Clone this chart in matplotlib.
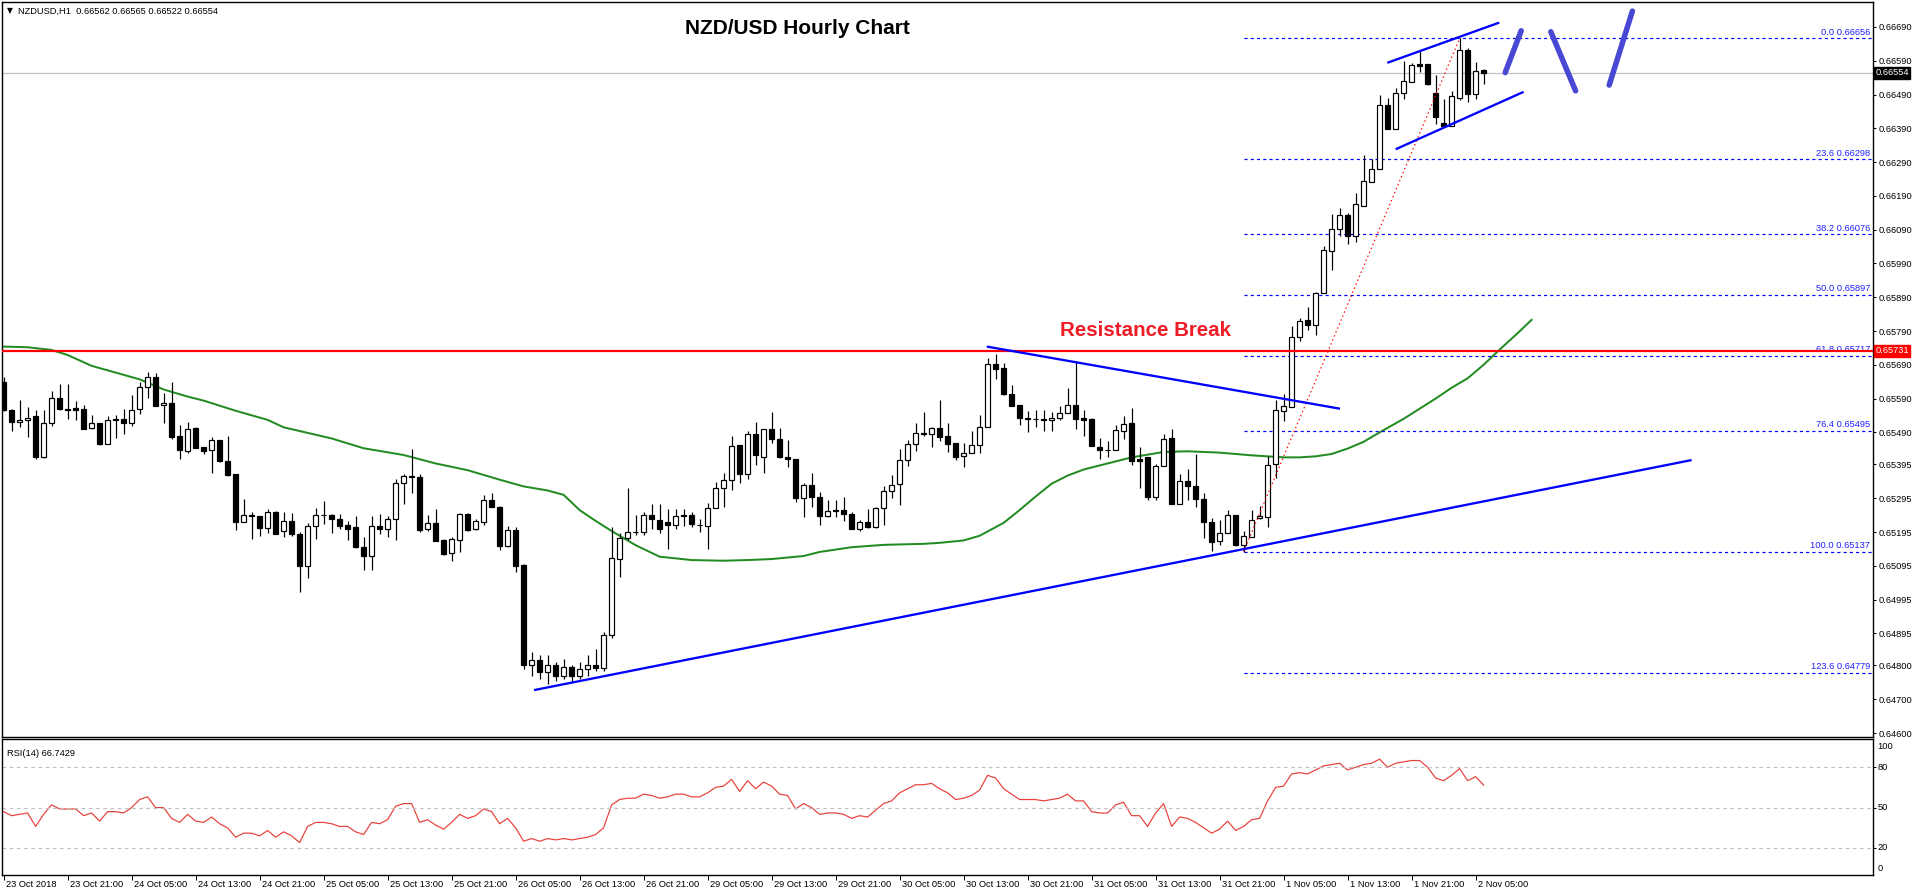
import matplotlib
matplotlib.use("Agg")
import matplotlib.pyplot as plt
from matplotlib.transforms import blended_transform_factory
import numpy as np

W, H, DPI = 1916, 896, 100

# ---- NZDUSD H1 candles (bar 0 = 23 Oct 13:00) ----
opens = [0.65640, 0.65556, 0.65520, 0.65526, 0.65538, 0.65416, 0.65517, 0.65591, 0.65558, 0.65561,
         0.65559, 0.65502, 0.65517, 0.65457, 0.65527, 0.65529, 0.65517, 0.65558, 0.65623, 0.65655,
         0.65570, 0.65576, 0.65479, 0.65436, 0.65502, 0.65447, 0.65437, 0.65467, 0.65404, 0.65366,
         0.65226, 0.65244, 0.65242, 0.65206, 0.65255, 0.65197, 0.65229, 0.65189, 0.65095, 0.65212,
         0.65244, 0.65245, 0.65235, 0.65215, 0.65210, 0.65152, 0.65125, 0.65212, 0.65205, 0.65234,
         0.65339, 0.65361, 0.65358, 0.65203, 0.65222, 0.65170, 0.65132, 0.65170, 0.65248, 0.65203,
         0.65226, 0.65289, 0.65269, 0.65154, 0.65200, 0.65097, 0.64800, 0.64815, 0.64780, 0.64800,
         0.64770, 0.64795, 0.64770, 0.64790, 0.64800, 0.64792, 0.64890, 0.65114, 0.65176, 0.65194,
         0.65194, 0.65244, 0.65232, 0.65224, 0.65215, 0.65244, 0.65244, 0.65217, 0.65212, 0.65265,
         0.65324, 0.65348, 0.65452, 0.65366, 0.65484, 0.65416, 0.65499, 0.65470, 0.65417, 0.65410,
         0.65295, 0.65334, 0.65300, 0.65241, 0.65259, 0.65259, 0.65248, 0.65203, 0.65224, 0.65209,
         0.65265, 0.65315, 0.65336, 0.65407, 0.65457, 0.65486, 0.65484, 0.65502, 0.65479, 0.65458,
         0.65419, 0.65428, 0.65452, 0.65507, 0.65691, 0.65680, 0.65604, 0.65571, 0.65534, 0.65530,
         0.65530, 0.65527, 0.65532, 0.65546, 0.65571, 0.65534, 0.65530, 0.65447, 0.65437, 0.65437,
         0.65493, 0.65518, 0.65410, 0.65416, 0.65298, 0.65390, 0.65474, 0.65278, 0.65347, 0.65331,
         0.65292, 0.65226, 0.65167, 0.65192, 0.65245, 0.65157, 0.65181, 0.65236, 0.65239, 0.65395,
         0.65553, 0.65566, 0.65772, 0.65823, 0.65809, 0.65902, 0.66026, 0.66091, 0.66133, 0.66070,
         0.66161, 0.66230, 0.66269, 0.66459, 0.66389, 0.66496, 0.66528, 0.66579, 0.66579, 0.66494,
         0.66407, 0.66396, 0.66481, 0.66621, 0.66491, 0.66562]
highs = [0.65655, 0.65560, 0.65586, 0.65564, 0.65556, 0.65556, 0.65612, 0.65633, 0.65633, 0.65583,
         0.65571, 0.65541, 0.65519, 0.65538, 0.65541, 0.65558, 0.65601, 0.65640, 0.65670, 0.65667,
         0.65608, 0.65638, 0.65512, 0.65521, 0.65505, 0.65448, 0.65475, 0.65468, 0.65479, 0.65368,
         0.65293, 0.65255, 0.65243, 0.65262, 0.65256, 0.65253, 0.65251, 0.65195, 0.65222, 0.65265,
         0.65287, 0.65249, 0.65249, 0.65227, 0.65241, 0.65179, 0.65241, 0.65248, 0.65241, 0.65351,
         0.65368, 0.65442, 0.65367, 0.65244, 0.65263, 0.65173, 0.65180, 0.65250, 0.65251, 0.65235,
         0.65305, 0.65310, 0.65273, 0.65212, 0.65211, 0.65100, 0.64840, 0.64830, 0.64830, 0.64810,
         0.64820, 0.64800, 0.64810, 0.64830, 0.64850, 0.64900, 0.65211, 0.65191, 0.65324, 0.65245,
         0.65253, 0.65278, 0.65278, 0.65262, 0.65262, 0.65262, 0.65253, 0.65233, 0.65281, 0.65342,
         0.65369, 0.65479, 0.65454, 0.65494, 0.65521, 0.65501, 0.65550, 0.65503, 0.65467, 0.65412,
         0.65339, 0.65369, 0.65312, 0.65289, 0.65291, 0.65298, 0.65254, 0.65230, 0.65264, 0.65270,
         0.65330, 0.65365, 0.65441, 0.65467, 0.65518, 0.65550, 0.65507, 0.65586, 0.65517, 0.65460,
         0.65460, 0.65494, 0.65541, 0.65711, 0.65723, 0.65696, 0.65631, 0.65572, 0.65553, 0.65557,
         0.65557, 0.65551, 0.65569, 0.65622, 0.65701, 0.65555, 0.65532, 0.65474, 0.65463, 0.65511,
         0.65537, 0.65561, 0.65448, 0.65418, 0.65395, 0.65485, 0.65500, 0.65368, 0.65381, 0.65426,
         0.65310, 0.65236, 0.65231, 0.65261, 0.65245, 0.65197, 0.65261, 0.65271, 0.65421, 0.65585,
         0.65603, 0.65804, 0.65830, 0.65860, 0.65905, 0.66042, 0.66135, 0.66154, 0.66140, 0.66200,
         0.66311, 0.66298, 0.66489, 0.66481, 0.66510, 0.66589, 0.66583, 0.66619, 0.66580, 0.66547,
         0.66476, 0.66500, 0.66656, 0.66628, 0.66586, 0.66565]
lows = [0.65554, 0.65495, 0.65507, 0.65475, 0.65412, 0.65414, 0.65510, 0.65556, 0.65530, 0.65528,
        0.65499, 0.65500, 0.65454, 0.65455, 0.65474, 0.65486, 0.65510, 0.65543, 0.65593, 0.65567,
        0.65519, 0.65471, 0.65412, 0.65430, 0.65443, 0.65426, 0.65371, 0.65402, 0.65362, 0.65202,
        0.65224, 0.65175, 0.65182, 0.65193, 0.65188, 0.65179, 0.65184, 0.65018, 0.65059, 0.65175,
        0.65219, 0.65193, 0.65205, 0.65172, 0.65149, 0.65084, 0.65084, 0.65189, 0.65181, 0.65172,
        0.65279, 0.65311, 0.65196, 0.65197, 0.65167, 0.65128, 0.65109, 0.65137, 0.65199, 0.65201,
        0.65215, 0.65268, 0.65143, 0.65152, 0.65077, 0.64790, 0.64770, 0.64760, 0.64745, 0.64755,
        0.64760, 0.64750, 0.64760, 0.64770, 0.64785, 0.64785, 0.64880, 0.65061, 0.65171, 0.65187,
        0.65187, 0.65203, 0.65193, 0.65144, 0.65203, 0.65213, 0.65211, 0.65194, 0.65144, 0.65265,
        0.65270, 0.65320, 0.65341, 0.65353, 0.65394, 0.65371, 0.65460, 0.65414, 0.65388, 0.65284,
        0.65240, 0.65270, 0.65217, 0.65238, 0.65240, 0.65228, 0.65203, 0.65197, 0.65207, 0.65207,
        0.65215, 0.65295, 0.65274, 0.65390, 0.65436, 0.65479, 0.65446, 0.65465, 0.65433, 0.65408,
        0.65388, 0.65428, 0.65428, 0.65505, 0.65649, 0.65602, 0.65567, 0.65511, 0.65490, 0.65506,
        0.65495, 0.65495, 0.65527, 0.65546, 0.65500, 0.65479, 0.65451, 0.65411, 0.65416, 0.65437,
        0.65469, 0.65392, 0.65326, 0.65289, 0.65289, 0.65390, 0.65278, 0.65278, 0.65289, 0.65268,
        0.65178, 0.65139, 0.65157, 0.65192, 0.65155, 0.65137, 0.65181, 0.65233, 0.65210, 0.65355,
        0.65524, 0.65566, 0.65759, 0.65793, 0.65777, 0.65902, 0.65971, 0.66071, 0.66047, 0.66055,
        0.66161, 0.66230, 0.66269, 0.66387, 0.66387, 0.66476, 0.66527, 0.66557, 0.66518, 0.66404,
        0.66396, 0.66396, 0.66473, 0.66468, 0.66476, 0.66522]
closes = [0.65556, 0.65520, 0.65528, 0.65534, 0.65418, 0.65517, 0.65591, 0.65558, 0.65557, 0.65556,
          0.65501, 0.65517, 0.65456, 0.65527, 0.65529, 0.65517, 0.65556, 0.65623, 0.65655, 0.65569,
          0.65576, 0.65475, 0.65437, 0.65499, 0.65445, 0.65435, 0.65467, 0.65404, 0.65365, 0.65225,
          0.65244, 0.65241, 0.65206, 0.65253, 0.65190, 0.65229, 0.65190, 0.65095, 0.65212, 0.65244,
          0.65245, 0.65235, 0.65214, 0.65205, 0.65151, 0.65125, 0.65214, 0.65205, 0.65235, 0.65339,
          0.65361, 0.65359, 0.65201, 0.65222, 0.65169, 0.65131, 0.65174, 0.65247, 0.65202, 0.65227,
          0.65289, 0.65270, 0.65154, 0.65200, 0.65095, 0.64800, 0.64815, 0.64780, 0.64800, 0.64770,
          0.64795, 0.64770, 0.64790, 0.64800, 0.64792, 0.64890, 0.65117, 0.65176, 0.65195, 0.65195,
          0.65244, 0.65234, 0.65205, 0.65215, 0.65241, 0.65241, 0.65220, 0.65215, 0.65265, 0.65324,
          0.65348, 0.65449, 0.65366, 0.65484, 0.65424, 0.65499, 0.65469, 0.65416, 0.65410, 0.65295,
          0.65334, 0.65300, 0.65241, 0.65256, 0.65256, 0.65247, 0.65203, 0.65224, 0.65209, 0.65265,
          0.65315, 0.65334, 0.65407, 0.65457, 0.65487, 0.65487, 0.65502, 0.65477, 0.65456, 0.65416,
          0.65428, 0.65452, 0.65505, 0.65691, 0.65678, 0.65604, 0.65569, 0.65532, 0.65530, 0.65529,
          0.65526, 0.65534, 0.65548, 0.65571, 0.65530, 0.65527, 0.65451, 0.65437, 0.65438, 0.65497,
          0.65516, 0.65405, 0.65404, 0.65298, 0.65390, 0.65471, 0.65278, 0.65347, 0.65331, 0.65292,
          0.65226, 0.65165, 0.65191, 0.65245, 0.65157, 0.65182, 0.65231, 0.65242, 0.65393, 0.65555,
          0.65567, 0.65772, 0.65820, 0.65809, 0.65902, 0.66029, 0.66091, 0.66133, 0.66070, 0.66165,
          0.66233, 0.66269, 0.66459, 0.66389, 0.66496, 0.66531, 0.66577, 0.66575, 0.66520, 0.66423,
          0.66396, 0.66486, 0.66621, 0.66491, 0.66560, 0.66554]

# ---- moving average (bar, value) ----
ma_bars = [0, 3, 6, 8, 11, 14, 17, 20, 23, 25, 29, 33, 35, 41, 45, 50, 54, 58, 62, 65, 68, 70,
           72, 74, 76, 79, 82, 86, 90, 93, 96, 100, 102, 106, 110, 115, 117, 120, 122, 125, 127,
           129, 131, 133, 135, 138, 141, 145, 148, 152, 156, 160, 162, 164, 166, 168, 170, 172,
           175, 177, 179, 181, 183, 185, 187, 189, 191]
ma_values = [0.65744, 0.65742, 0.65734, 0.65719, 0.65687, 0.65667, 0.65647, 0.65617, 0.65596,
             0.65584, 0.65554, 0.65527, 0.65505, 0.65472, 0.65443, 0.65423, 0.65398, 0.65378,
             0.65350, 0.65330, 0.65318, 0.65305, 0.65260, 0.65228, 0.65198, 0.65156, 0.65122,
             0.65112, 0.65110, 0.65112, 0.65115, 0.65124, 0.65136, 0.65150, 0.65157, 0.65160,
             0.65163, 0.65170, 0.65184, 0.65222, 0.65260, 0.65300, 0.65338, 0.65362, 0.65380,
             0.65398, 0.65416, 0.65432, 0.65434, 0.65430, 0.65422, 0.65416, 0.65416, 0.65419,
             0.65426, 0.65442, 0.65462, 0.65490, 0.65530, 0.65560, 0.65590, 0.65622, 0.65650,
             0.65690, 0.65735, 0.65778, 0.65823]

# ---- RSI(14) per bar ----
rsi = [47, 44, 45, 46, 36, 45, 52, 49, 49, 49,
       44, 46, 40, 47, 47, 46, 50, 56, 58, 50,
       50, 42, 39, 45, 40, 39, 43, 38, 35, 28,
       31, 31, 29, 33, 28, 32, 29, 24, 36, 39,
       39, 38, 36, 36, 32, 30, 39, 38, 41, 51,
       53, 53, 39, 41, 37, 34, 39, 45, 42, 44,
       49, 47, 38, 42, 35, 25, 27, 25, 27, 26,
       27, 26, 27, 28, 30, 35, 52, 56, 57, 57,
       60, 59, 57, 58, 60, 60, 58, 58, 61, 65,
       66, 71, 62, 70, 64, 69, 66, 60, 59, 49,
       53, 50, 45, 46, 46, 45, 42, 44, 43, 48,
       53, 55, 61, 64, 67, 67, 68, 64, 61, 56,
       57, 59, 63, 74, 72, 64, 60, 56, 56, 56,
       55, 56, 57, 60, 55, 55, 47, 46, 46, 52,
       54, 44, 44, 36, 46, 53, 36, 43, 42, 39,
       35, 31, 34, 40, 33, 36, 41, 42, 55, 65,
       66, 75, 76, 75, 78, 81, 82, 83, 78, 80,
       82, 83, 86, 80, 83, 84, 85, 85, 80, 72,
       70, 74, 79, 70, 73, 66.7429]
rsi_levels = [20, 50, 80]
rsi_scale = ["100", "80", "50", "20", "0"]
rsi_scale_values = [100, 80, 50, 20, 0]

# ---- axis labels ----
time_tick_bars = list(range(0, 185, 8))
time_labels = ["23 Oct 2018", "23 Oct 21:00", "24 Oct 05:00", "24 Oct 13:00", "24 Oct 21:00",
               "25 Oct 05:00", "25 Oct 13:00", "25 Oct 21:00", "26 Oct 05:00", "26 Oct 13:00",
               "26 Oct 21:00", "29 Oct 05:00", "29 Oct 13:00", "29 Oct 21:00", "30 Oct 05:00",
               "30 Oct 13:00", "30 Oct 21:00", "31 Oct 05:00", "31 Oct 13:00", "31 Oct 21:00",
               "1 Nov 05:00", "1 Nov 13:00", "1 Nov 21:00", "2 Nov 05:00"]
price_ticks = [0.66690, 0.66590, 0.66490, 0.66390, 0.66290, 0.66190, 0.66090, 0.65990, 0.65890,
               0.65790, 0.65690, 0.65590, 0.65490, 0.65395, 0.65295, 0.65195, 0.65095, 0.64995,
               0.64895, 0.64800, 0.64700, 0.64600]

# ---- drawings ----
resistance = 0.65731
last_price = 0.66554
fib_start_bar = 155
fib_high_bar = 182
fib_ratios = ["0.0", "23.6", "38.2", "50.0", "61.8", "76.4", "100.0", "123.6"]
fib_prices = [0.66656, 0.66298, 0.66076, 0.65897, 0.65717, 0.65495, 0.65137, 0.64779]
support_line = [(66.3, 0.64727), (211.0, 0.65408)]
falling_line = [(122.9, 0.65744), (167.05, 0.65560)]
channel_top = [(172.96, 0.66584), (186.96, 0.66703)]
channel_bottom = [(174.0, 0.66328), (190.0, 0.66498)]
path_strokes = [[(187.7, 0.66555), (189.7, 0.66679)],
                [(193.4, 0.66676), (196.5, 0.66501)],
                [(200.7, 0.66518), (203.6, 0.66737)]]

title = "NZD/USD Hourly Chart"
break_label = "Resistance Break"
break_label_pos = (142.7, 0.65793)
header = "NZDUSD,H1  0.66562 0.66565 0.66522 0.66554"
rsi_header = "RSI(14) 66.7429"

# ---------------------------------------------------------------
SMALL = dict(family="Liberation Sans", size=6.7)
PX = 72.0 / DPI  # one pixel in points

fig = plt.figure(figsize=(W / DPI, H / DPI), dpi=DPI)
fig.patch.set_facecolor("white")

def frac_box(x0, y0, x1, y1):
    return [x0 / W, 1 - y1 / H, (x1 - x0) / W, (y1 - y0) / H]

ax = fig.add_axes(frac_box(2, 2, 1873, 737))
axr = fig.add_axes(frac_box(2, 739, 1873, 875), sharex=ax)

xmin, xmax = -0.2, 233.675
ax.set_xlim(xmin, xmax)
ax.set_ylim(0.645882, 0.667640)
axr.set_ylim(-0.1, 101.0)

for a in (ax, axr):
    for s in a.spines.values():
        s.set_linewidth(1.4 * PX)
        s.set_color("black")

n = len(opens)
x = np.arange(n)
o = np.array(opens); c = np.array(closes); hi = np.array(highs); lo = np.array(lows)

# wicks
ax.vlines(x, lo, hi, color="black", linewidth=1.2 * PX, zorder=3)
# bodies
up = c >= o
body_w = 0.56
bottoms = np.minimum(o, c)
heights = np.maximum(np.abs(c - o), 0.000004)
ax.bar(x[up], heights[up], bottom=bottoms[up], width=body_w, color="white",
       edgecolor="black", linewidth=1.2 * PX, zorder=4)
ax.bar(x[~up], heights[~up], bottom=bottoms[~up], width=body_w, color="black",
       edgecolor="black", linewidth=1.2 * PX, zorder=4)

# moving average
ax.plot(ma_bars, ma_values, color="#228b22", linewidth=2 * PX, zorder=2)

# current price line and resistance
ax.axhline(last_price, color="#c0c0c0", linewidth=1.2 * PX, zorder=1)
ax.axhline(resistance, color="#ff0000", linewidth=2.2 * PX, zorder=5)

# fibonacci retracement
for r, p in zip(fib_ratios, fib_prices):
    ax.plot([fib_start_bar, xmax], [p, p], color="#0000ff", linewidth=1.2 * PX,
            dashes=(2.6, 2.6), zorder=2)
    ax.annotate(f"{r} {p:.5f}", xy=(1.0, p), xycoords=("axes fraction", "data"),
                xytext=(-3 * PX, 1.0), textcoords="offset points", ha="right", va="bottom",
                color="#2020ff", **SMALL)
ax.plot([fib_start_bar, fib_high_bar], [fib_prices[6], fib_prices[0]], color="#ff0000",
        linewidth=1.2 * PX, dashes=(1.2, 2.4), zorder=6)

# trend lines
for seg in (support_line, falling_line, channel_top, channel_bottom):
    (x0, y0), (x1, y1) = seg
    ax.plot([x0, x1], [y0, y1], color="#0000ff", linewidth=2.3 * PX, zorder=6,
            solid_capstyle="butt")
for seg in path_strokes:
    (x0, y0), (x1, y1) = seg
    ax.plot([x0, x1], [y0, y1], color="#4848d4", linewidth=5.5 * PX, zorder=6,
            solid_capstyle="round")

# texts
ax.text(795 / 1871, 1 - 27 / 735, title, transform=ax.transAxes, ha="center",
        va="center", fontsize=15, fontweight="bold", family="Liberation Sans", color="black")
ax.text(break_label_pos[0], break_label_pos[1], break_label, ha="center", va="center",
        fontsize=14.8, fontweight="bold", family="Liberation Sans", color="#ee1c25", zorder=7)
ax.text(0.0025, 1 - 9 / 735, "\u25bc", transform=ax.transAxes, ha="left",
        va="center", family="DejaVu Sans", size=5.5, color="black")
ax.text(16 / 1871, 1 - 9 / 735, header, transform=ax.transAxes, ha="left", va="center",
        **SMALL)

# price axis on the right
ax.yaxis.tick_right()
ax.set_yticks(price_ticks)
ax.set_yticklabels([f"{v:.5f}" for v in price_ticks], **SMALL)
ax.tick_params(axis="y", direction="out", length=3 * PX, width=1 * PX, pad=2, right=True,
               left=False)
ax.tick_params(axis="x", bottom=False, labelbottom=False)

tr = blended_transform_factory(ax.transAxes, ax.transData)
for val, col in ((last_price, "black"), (resistance, "#ff0000")):
    ax.text(1.0013, val, f"{val:.5f}", transform=tr, ha="left", va="center",
            color="white", zorder=10, clip_on=False,
            bbox=dict(boxstyle="square,pad=0.12", fc=col, ec=col), **SMALL)

# RSI panel
axr.plot(x, rsi, color="#e8403a", linewidth=1.2 * PX)
for lv in rsi_levels:
    axr.axhline(lv, color="#c0c0c0", linewidth=1.2 * PX, dashes=(3, 3))
axr.yaxis.tick_right()
axr.set_yticks([80, 50, 20])
axr.set_yticklabels([])
axr.tick_params(axis="y", direction="out", length=3 * PX, width=1 * PX)
trr = blended_transform_factory(axr.transAxes, axr.transData)
for lab, v in zip(rsi_scale, rsi_scale_values):
    va = "top" if v == 100 else ("bottom" if v == 0 else "center")
    yv = v - 1.5 if v == 100 else (v + 1.5 if v == 0 else v)
    axr.text(1.0025, yv, lab, transform=trr, ha="left", va=va, clip_on=False, **SMALL)
axr.text(5 / 1871, 0.93, rsi_header, transform=axr.transAxes, ha="left", va="top", **SMALL)

axr.set_xticks(time_tick_bars)
axr.set_xticklabels([])
axr.tick_params(axis="x", direction="out", length=5 * PX, width=1 * PX)
for b, lab in zip(time_tick_bars, time_labels):
    axr.annotate(lab, xy=(b, 0), xycoords=("data", "axes fraction"), xytext=(2.2 * PX, -4.5 * PX),
                 textcoords="offset points", ha="left", va="top", **SMALL)

fig.savefig("out.png", dpi=DPI, facecolor="white")
